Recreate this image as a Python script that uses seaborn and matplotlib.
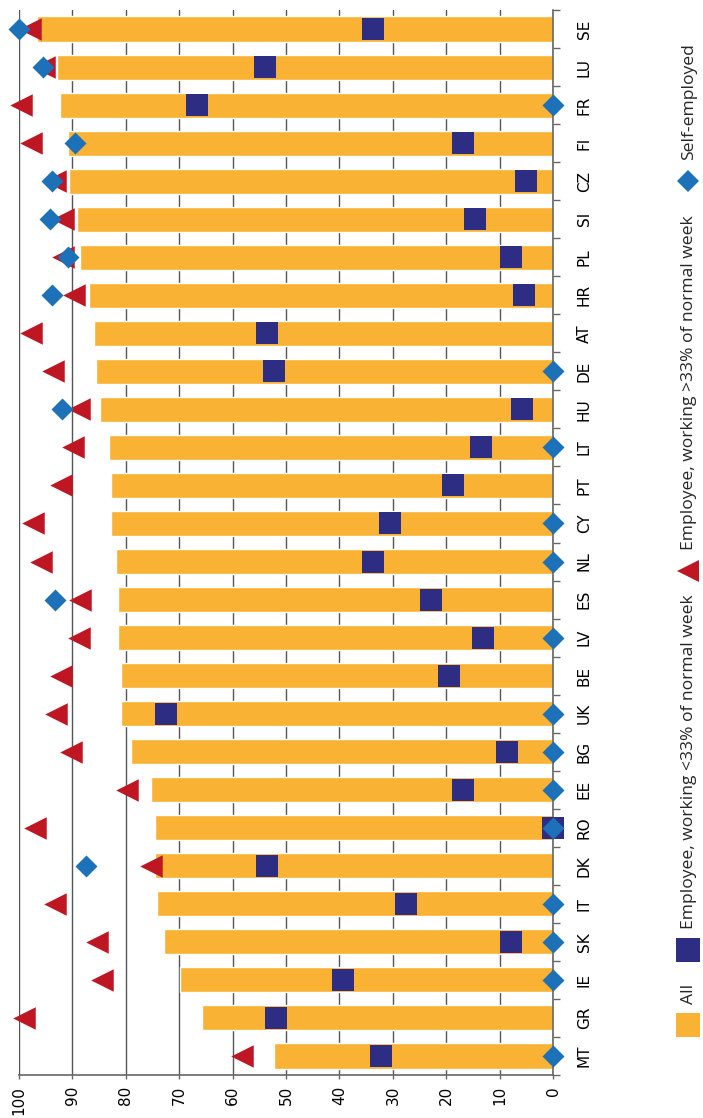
import numpy as np
import pandas as pd
import matplotlib
matplotlib.use('Agg')
import matplotlib.pyplot as plt
import seaborn as sns

# Datos (de arriba a abajo en la figura girada)
countries = ['SE', 'LU', 'FR', 'FI', 'CZ', 'SI', 'PL', 'HR', 'AT', 'DE', 'HU', 'LT', 'PT', 'CY',
             'NL', 'ES', 'LV', 'BE', 'UK', 'BG', 'EE', 'RO', 'DK', 'IT', 'SK', 'IE', 'GR', 'MT']
all_vals = [96.6, 92.8, 92.2, 90.7, 90.5, 89.1, 88.5, 86.9, 85.9, 85.6, 84.7, 83.1, 82.7, 82.7,
            81.8, 81.5, 81.5, 80.9, 80.9, 79.0, 75.2, 74.5, 74.5, 74.2, 72.9, 69.8, 65.7, 52.2]
emp_lt33 = [33.8, 54.0, 66.7, 16.8, 5.2, 14.6, 8.0, 5.4, 53.5, 52.2, 5.8, 13.6, 18.7, 30.5,
            33.8, 22.8, 13.1, 19.6, 72.4, 8.6, 16.8, 0.1, 53.5, 27.5, 8.0, 39.3, 51.8, 32.3]
emp_gt33 = [97.9, 95.2, 99.5, 97.7, 93.3, 91.7, 91.7, 89.7, 97.7, 93.6, 88.8, 89.8, 92.1, 97.4,
            95.8, 88.6, 88.8, 92.0, 93.0, 90.2, 79.7, 97.0, 75.3, 93.3, 85.4, 84.5, 99.0, 58.3]
self_emp = [100, 95.4, 0, 89.4, 93.8, 94.1, 90.7, 93.8, np.nan, 0, 91.9, 0, np.nan, 0,
            0, 93.2, 0, np.nan, 0, 0, 0, 0, 87.5, 0, 0, 0, np.nan, 0]
x_ticks = list(range(0, 101, 10))

legend_labels = ['All', 'Employee, working <33% of normal week',
                 'Employee, working >33% of normal week', 'Self-employed']

c_all = '#F9B233'
c_lt = '#2E2D84'
c_gt = '#BE1622'
c_se = '#1D71B8'

df = pd.DataFrame({'country': countries, 'all': all_vals, 'lt33': emp_lt33,
                   'gt33': emp_gt33, 'self': self_emp})

sns.set_theme(style='white')
plt.rcParams['font.family'] = ['DejaVu Sans']

W, H = 703, 1118
fig = plt.figure(figsize=(W / 100, H / 100), dpi=100)
ax = fig.add_axes([18.7 / W, 1 - 1075 / H, (553.3 - 18.7) / W, 1065 / H])

sns.barplot(data=df, y='country', x='all', order=countries, orient='h', color=c_all,
            saturation=1, width=0.66, ax=ax, zorder=2)
n0 = len(ax.collections)
sns.stripplot(data=df, y='country', x='lt33', order=countries, orient='h', jitter=False,
              marker='s', size=16.5, color=c_lt, linewidth=0, ax=ax, zorder=3)
sns.stripplot(data=df, y='country', x='gt33', order=countries, orient='h', jitter=False,
              marker='<', size=16.2, color=c_gt, linewidth=0, ax=ax, zorder=4)
sns.stripplot(data=df, y='country', x='self', order=countries, orient='h', jitter=False,
              marker='D', size=11.2, color=c_se, linewidth=0, ax=ax, zorder=5)
for coll in ax.collections[n0:]:
    coll.set_clip_on(False)

ax.set_xlim(100, 0)
ax.set_ylim(len(countries) - 0.5, -0.5)
ax.set_xticks(x_ticks)
ax.set_xticklabels([str(t) for t in x_ticks], rotation=90, fontsize=11)
ax.xaxis.grid(True, color='#555555', lw=1)
ax.yaxis.grid(False)
ax.set_axisbelow(True)

ax.yaxis.tick_right()
ax.set_yticks(np.arange(len(countries)))
ax.set_yticklabels(countries, rotation=90, va='center', fontsize=11)
ax.set_yticks(np.arange(len(countries) + 1) - 0.5, minor=True)
ax.tick_params(axis='y', which='major', length=0, pad=17, colors='black')
ax.tick_params(axis='y', which='minor', length=5, width=1, color='#666666', right=True, left=False)
ax.tick_params(axis='x', which='major', length=3, width=1, color='#666666', pad=5,
               bottom=True, labelcolor='black')
ax.set_xlabel('')
ax.set_ylabel('')

for s in ['top', 'left']:
    ax.spines[s].set_visible(False)
for s in ['right', 'bottom']:
    ax.spines[s].set_color('#666666')
    ax.spines[s].set_linewidth(1.2)

# Leyenda girada
lax = fig.add_axes([0, 0, 1, 1], zorder=-1)
lax.set_xlim(0, W)
lax.set_ylim(H, 0)
lax.axis('off')
leg_y = [1025, 950, 571, 181]
leg_marker = ['s', 's', '<', 'D']
leg_size = [16.6, 16.6, 16.2, 11.2]
leg_color = [c_all, c_lt, c_gt, c_se]
for lab, y, m, ms, c in zip(legend_labels, leg_y, leg_marker, leg_size, leg_color):
    lax.plot([688], [y], marker=m, ms=ms, color=c, mew=0, ls='none')
    lax.text(689, y - 21, lab, rotation=90, ha='center', va='bottom',
             fontsize=12.6, family=['Open Sans', 'DejaVu Sans'])

fig.savefig('out.png', dpi=100)
